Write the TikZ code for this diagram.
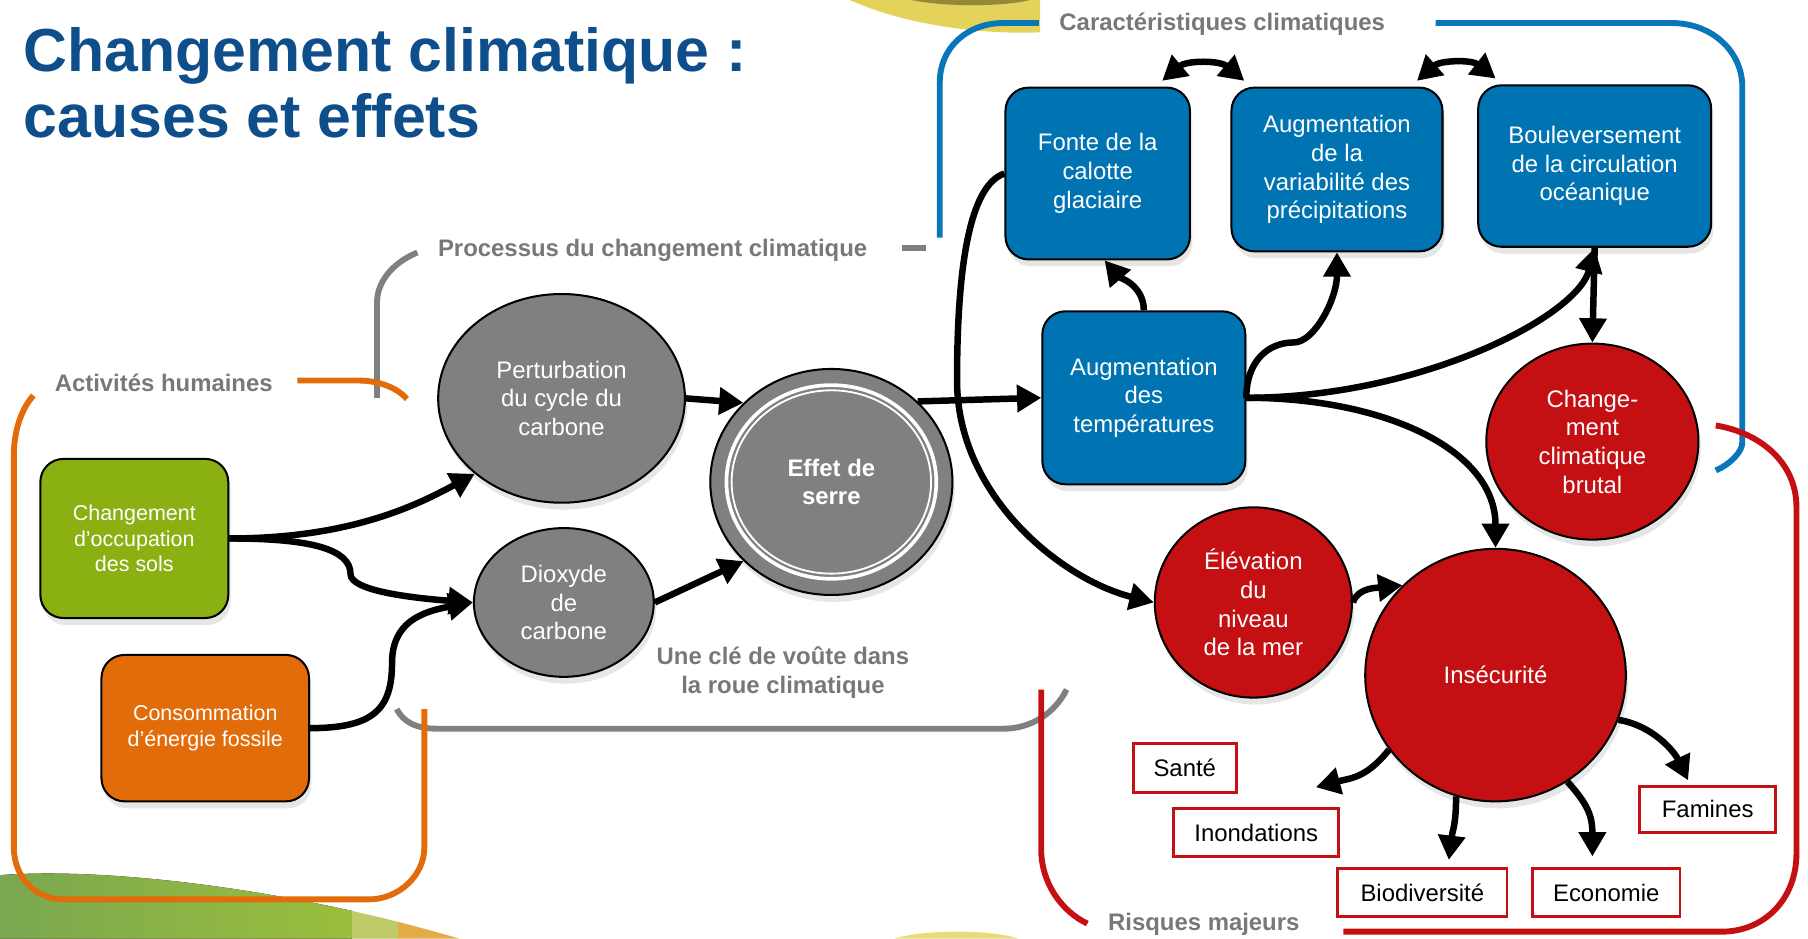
\documentclass[tikz,border=0pt]{standalone}
\usepackage{fontspec}
\setmainfont{Liberation Sans}
\usetikzlibrary{arrows.meta,shapes.geometric,shadows}

\definecolor{titleblue}{RGB}{14,78,138}
\definecolor{capgray}{RGB}{120,120,120}
\definecolor{fgorange}{RGB}{227,108,10}
\definecolor{fggreen}{RGB}{138,176,18}
\definecolor{fgblue}{RGB}{0,115,178}
\definecolor{frameblue}{RGB}{10,118,186}
\definecolor{fgred}{RGB}{196,16,18}
\definecolor{fggray}{RGB}{128,128,128}
\definecolor{sunyellow}{RGB}{228,210,90}
\definecolor{hillgreen}{RGB}{122,168,80}
\definecolor{hilllight}{RGB}{192,202,104}
\definecolor{hillorange}{RGB}{226,172,72}

\tikzset{
	box/.style={draw=black, line width=0.5pt, rounded corners=2mm, text=white, align=center, inner sep=0pt,
		drop shadow={shadow xshift=0.2mm, shadow yshift=-0.6mm, opacity=0.2}},
	blob/.style={ellipse, draw=black, line width=0.5pt, text=white, align=center, inner sep=0pt,
		drop shadow={shadow xshift=0.2mm, shadow yshift=-0.6mm, opacity=0.2}},
	risk/.style={draw=fgred, line width=0.7pt, fill=white, minimum height=4.2mm, inner sep=0pt},
	frame/.style={line width=1.45pt},
	caption/.style={text=capgray, font=\fontsize{5.9}{7.1}\selectfont\bfseries, align=center},
	flow/.style={line width=1.6pt, ->}
}

\begin{document}
\begin{tikzpicture}[x=0.1mm, y=-0.1mm, font=\fontsize{5.9}{7.1}\selectfont, >={Triangle[length=6pt,width=6.5pt]}]
	\useasboundingbox (0,0) rectangle (1568,814);
	% background
	\fill[sunyellow] (737,0) .. controls (790,24) and (860,30) .. (902,28) -- (902,0) -- cycle;
	\fill[black!35!sunyellow] (790,0) .. controls (820,6) and (870,6) .. (893,0) -- cycle;
	\fill[sunyellow!80!white] (776,814) .. controls (800,806) and (860,806) .. (883,814) -- cycle;
	\begin{scope}
		\clip (0,759) .. controls (90,752) and (250,770) .. (398,814) -- (0,814) -- cycle;
		\fill[left color=hillgreen, right color=hillgreen!75!yellow] (0,740) rectangle (305,814);
		\fill[hilllight] (305,740) rectangle (345,814);
		\fill[hillorange] (345,740) rectangle (400,814);
	\end{scope}
	% frames
	\draw[frame, fggray] (327,345) -- (327,262) .. controls (327,245) and (340,228) .. (362,219);
	\draw[frame, fggray] (782,215) -- (803,215);
	\draw[frame, fggray] (344,615) .. controls (350,626) and (360,632) .. (380,632) -- (870,632)
		.. controls (895,632) and (915,618) .. (925,598);
	\draw[frame, fgorange] (258,330) -- (310,330) .. controls (330,330) and (345,337) .. (353,346);
	\draw[frame, fgorange] (29,343) .. controls (18,355) and (12,375) .. (12,395) -- (12,735)
		.. controls (12,760) and (30,780) .. (55,780) -- (320,780)
		.. controls (345,780) and (368,760) .. (368,735) -- (368,615);
	\draw[frame, frameblue] (815,206) -- (815,72) .. controls (815,40) and (840,20) .. (870,20) -- (901,20);
	\draw[frame, frameblue] (1245,20) -- (1450,20) .. controls (1485,20) and (1511,45) .. (1511,75) -- (1511,384)
		.. controls (1511,392) and (1500,403) .. (1488,408);
	\draw[frame, fgred] (1488,369) .. controls (1525,375) and (1558,400) .. (1558,440) -- (1558,740)
		.. controls (1558,780) and (1530,808) .. (1493,808) -- (1165,808);
	\draw[frame, fgred] (903,598) -- (903,737) .. controls (903,765) and (920,790) .. (943,801);
	% titles
	\node[anchor=north west, inner sep=0pt, align=left, text=titleblue, font=\fontsize{15}{16.4}\selectfont\bfseries] (title) at (20,23) {Changement climatique :\\causes et effets};
	\node[caption] (acthum) at (142,332) {Activités humaines};
	\node[caption] (procnote) at (566,217) {Processus du changement climatique};
	\node[caption] (carnote) at (1060,21) {Caractéristiques climatiques};
	\node[caption] (risknote) at (1044,802) {Risques majeurs};
	\node[caption] (keynote) at (679,583) {Une clé de voûte dans\\la roue climatique};
	% causes
	\node[box, fill=fggreen, minimum width=16.3mm, minimum height=13.8mm, font=\fontsize{5.3}{6.3}\selectfont] (sols) at (116.5,467) {Changement\\d’occupation\\des sols};
	\node[box, fill=fgorange, minimum width=18mm, minimum height=12.7mm, font=\fontsize{5.3}{6.3}\selectfont] (fossil) at (178,631.5) {Consommation\\d’énergie fossile};
	\node[blob, fill=fggray, minimum width=21.4mm, minimum height=18.1mm] (pert) at (487,345.5) {Perturbation\\du cycle du\\carbone};
	\node[blob, fill=fggray, minimum width=15.6mm, minimum height=12.9mm] (diox) at (489,522.5) {Dioxyde\\de\\carbone};
	\node[blob, fill=fggray, minimum width=21mm, minimum height=19.6mm] (effet) at (721,418) {};
	\draw[white, line width=0.9pt] (effet.center) ellipse [x radius=91, y radius=84];
	\draw[white, line width=0.45pt] (effet.center) ellipse [x radius=86.5, y radius=79.5];
	\node[text=white, align=center, font=\fontsize{5.9}{7.1}\selectfont\bfseries] at (effet.center) {Effet de\\serre};
	% climate
	\node[box, fill=fgblue, minimum width=17.6mm, minimum height=15mm] (temp) at (992,345) {Augmentation\\des\\températures};
	\node[box, fill=fgblue, minimum width=16mm, minimum height=14.9mm] (fonte) at (952,150.5) {Fonte de la\\calotte\\glaciaire};
	\node[box, fill=fgblue, minimum width=18.3mm, minimum height=14.2mm] (precip) at (1159.5,147) {Augmentation\\de la\\variabilité des\\précipitations};
	\node[box, fill=fgblue, minimum width=20.2mm, minimum height=14mm] (boulev) at (1383,144) {Bouleversement\\de la circulation\\océanique};
	% risks
	\node[blob, fill=fgred, minimum width=18.4mm, minimum height=17mm] (brutal) at (1381,383) {Change-\\ment\\climatique\\brutal};
	\node[blob, fill=fgred, minimum width=17.1mm, minimum height=16.5mm] (elev) at (1087,522.5) {Élévation\\du\\niveau\\de la mer};
	\node[blob, fill=fgred, minimum width=22.6mm, minimum height=21.9mm] (insec) at (1297,585.5) {Insécurité};
	\node[risk, minimum width=8.9mm] (sante) at (1027.5,666) {Santé};
	\node[risk, minimum width=14.3mm] (inond) at (1089.5,722) {Inondations};
	\node[risk, minimum width=14.7mm] (biodiv) at (1233.5,774) {Biodiversité};
	\node[risk, minimum width=12.8mm] (econ) at (1393,774) {Economie};
	\node[risk, minimum width=11.8mm, minimum height=4mm] (famines) at (1481,702) {Famines};
	% links
	\draw[flow] (sols.east) .. controls +(100,0) and +(-55,30) .. (pert.221);
	\draw[flow] (sols.east) .. controls +(70,0) and +(0,-22) .. (304,498) .. controls +(0,14) and +(-55,-4) .. (diox.west);
	\draw[flow] (fossil.east) .. controls +(55,0) and +(0,40) .. (340,575) .. controls +(0,-35) and +(-45,8) .. (diox.west);
	\draw[flow] (pert.east) -- (effet.138);
	\draw[flow] (diox.east) -- (effet.222);
	\draw[flow] (effet.43) -- (temp.west);
	\draw[flow] (fonte.west) .. controls +(-30,10) and +(0,-100) .. (830,330) .. controls +(0,100) and +(-80,-20) .. (elev.west);
	\draw[flow] (temp.north) .. controls +(0,-22) and +(12,14) .. ([xshift=0.6mm]fonte.south);
	\draw[flow] (temp.east) .. controls +(0,-32) and +(-22,0) .. (1122,297) .. controls +(18,0) and +(0,40) .. (precip.south);
	\draw[flow] (temp.east) .. controls +(150,0) and +(-15,60) .. (boulev.south);
	\draw[flow] (boulev.south) -- (brutal.north);
	\draw[flow] (temp.east) .. controls +(120,0) and +(0,-85) .. (insec.north);
	\draw[flow] (elev.east) .. controls +(4,-14) and +(-18,2) .. (insec.136);
	\draw[flow, <->] ([xshift=-2.5mm,yshift=0.5mm]fonte.north east) to[bend left=40] ([xshift=1.2mm,yshift=0.5mm]precip.north west);
	\draw[flow, <->] ([xshift=-2.3mm,yshift=0.5mm]precip.north east) to[bend left=40] ([xshift=1.6mm,yshift=0.5mm]boulev.north west);
	\draw[flow] (insec.215) .. controls +(-20,25) and +(30,-8) .. ([xshift=-2.1mm,yshift=1.7mm]inond.north east);
	\draw[flow] (insec.252) .. controls +(0,25) and +(3,-25) .. ([xshift=2.3mm,yshift=0.6mm]biodiv.north);
	\draw[flow] (insec.304) .. controls +(18,20) and +(0,-35) .. ([xshift=-1.2mm,yshift=0.9mm]econ.north);
	\draw[flow] (insec.340) .. controls +(30,5) and +(-12,-25) .. ([xshift=-1.7mm,yshift=0.4mm]famines.north);
\end{tikzpicture}
\end{document}
